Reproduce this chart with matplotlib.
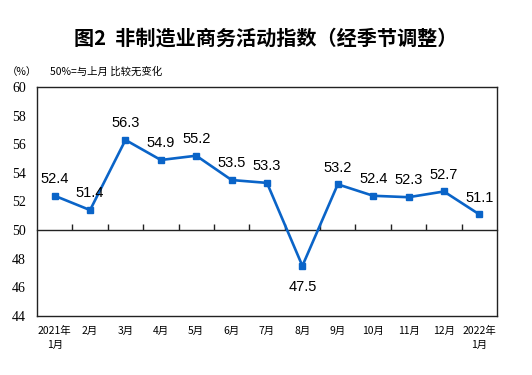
import matplotlib
matplotlib.use("Agg")
import matplotlib.pyplot as plt
import matplotlib.transforms as mtransforms

categories = ["2021年\n1月", "2月", "3月", "4月", "5月", "6月", "7月", "8月",
              "9月", "10月", "11月", "12月", "2022年\n1月"]
values = [52.4, 51.4, 56.3, 54.9, 55.2, 53.5, 53.3, 47.5, 53.2, 52.4, 52.3, 52.7, 51.1]
yticks = [44, 46, 48, 50, 52, 54, 56, 58, 60]

cjk = ["Noto Sans CJK SC", "DejaVu Sans"]
color = "#0A64C8"

fig = plt.figure(figsize=(5.32, 3.75), dpi=100)
ax = fig.add_axes([37/532, 1-316/375, 460/532, 229/375])

x = list(range(len(values)))
ax.plot(x, values, color=color, lw=1.9, marker="s", ms=4.5, zorder=3)

ax.set_xlim(-0.5, len(values)-0.5)
ax.set_ylim(44, 60)
ax.set_yticks(yticks)
ax.set_yticklabels([str(v) for v in yticks], family="Liberation Serif", fontsize=10)
ax.tick_params(axis="y", length=0, pad=8)

# x axis line at 50 with ticks between categories
ax.spines["bottom"].set_position(("data", 50))
for s in ["left", "right", "top", "bottom"]:
    ax.spines[s].set_color("#222222")
    ax.spines[s].set_linewidth(1.0)
ax.set_xticks([i + 0.5 for i in x[:-1]])
ax.set_xticklabels([])
ax.tick_params(axis="x", direction="in", length=4, width=1.0, color="#222222")

# bottom frame line at 44
ax.plot([0, 1], [0, 0], transform=ax.transAxes, color="#222222", lw=1.0, clip_on=False)

trans = mtransforms.blended_transform_factory(ax.transData, ax.transAxes)
for i, lab in enumerate(categories):
    ax.text(i, -0.045, lab, transform=trans, ha="center", va="top",
            family=cjk, fontsize=7.5, linespacing=1.5)

for i, v in enumerate(values):
    if v < 50:
        ax.annotate(f"{v}", (i, v), xytext=(0, -10), textcoords="offset points",
                    ha="center", va="top", family="Liberation Sans", fontsize=10.5)
    else:
        ax.annotate(f"{v}", (i, v), xytext=(0, 7), textcoords="offset points",
                    ha="center", va="bottom", family="Liberation Sans", fontsize=10.5)

fig.text(266/532, 1-38/375, "图2  非制造业商务活动指数（经季节调整）", ha="center", va="center",
         family=cjk, fontsize=14.5, fontweight="bold")
fig.text(22/532, 1-72/375, "（%）", ha="center", va="center", family=cjk, fontsize=7.5)
fig.text(50/532, 1-72/375, "50%=与上月 比较无变化", ha="left", va="center", family=cjk, fontsize=7.5)

fig.savefig("out.png", dpi=100)
